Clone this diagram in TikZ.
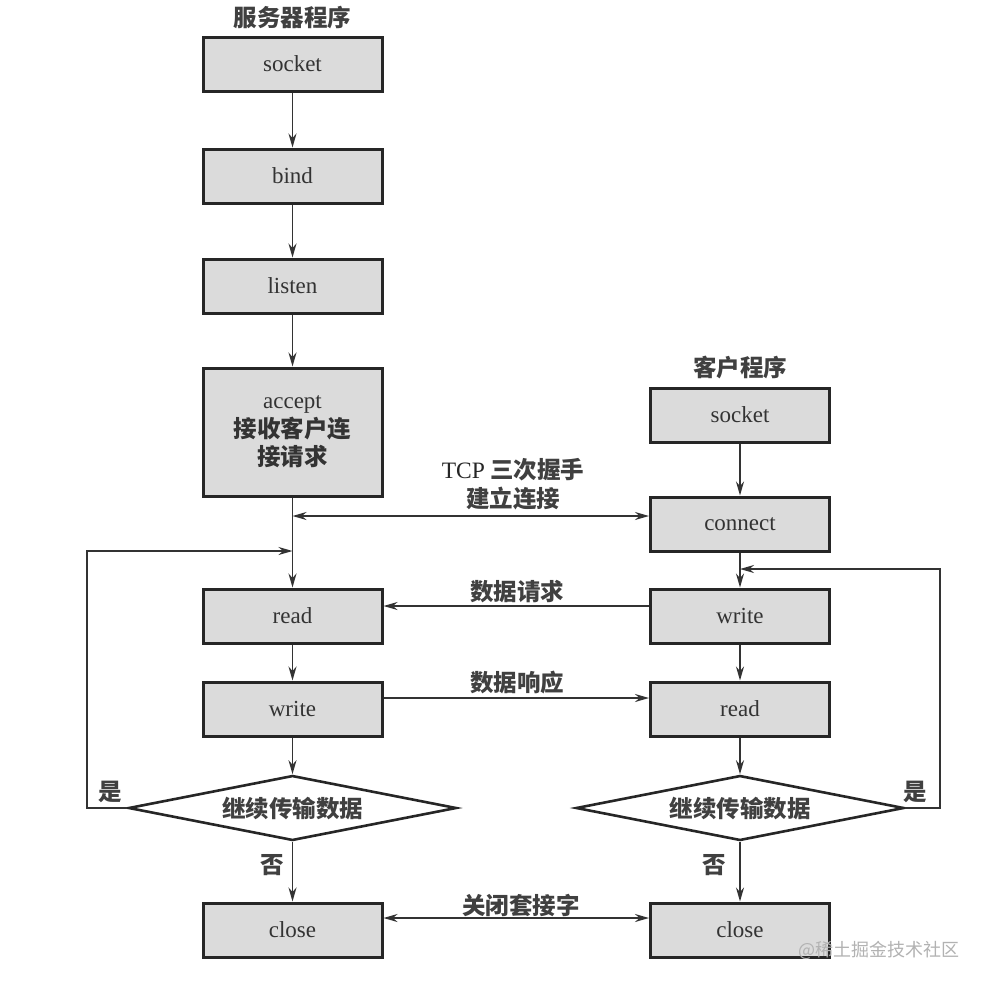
\documentclass[tikz,border=0pt]{standalone}
\usepackage{fontspec}
\setmainfont{Liberation Serif}
\newfontfamily\cjk{Noto Sans CJK SC}
\usetikzlibrary{arrows.meta,shapes.geometric}
\begin{document}
\begin{tikzpicture}[x=1pt,y=-1pt,
  box/.style={draw=black!85, line width=3pt, fill=gray!28, minimum width=179pt, minimum height=54pt, inner sep=0pt, font=\fontsize{23}{28.5}\selectfont, text=black!80, align=center},
  dia/.style={diamond, draw=black!85, line width=2.6pt, fill=white, minimum width=328pt, minimum height=65pt, aspect=5, inner sep=0pt, font=\cjk\bfseries\fontsize{23.5}{27}\selectfont, text=black!75},
  arr/.style={line width=1.8pt, draw=black!80, -{Stealth[length=14pt,width=8pt]}},
  darr/.style={line width=1.8pt, draw=black!80, {Stealth[length=14pt,width=8pt]}-{Stealth[length=14pt,width=8pt]}},
  lab/.style={font=\cjk\bfseries\fontsize{23.5}{28.5}\selectfont, text=black!75, inner sep=0pt, align=center},
  plain/.style={line width=1.8pt, draw=black!80}
]
\useasboundingbox[fill=white] (0,0) rectangle (982,988);

% server column
\node[lab] (stitle) at (292.5,18) {服务器程序};
\node[box] (lsocket) at (292.5,64) {socket};
\node[box] (lbind) at (292.5,176) {bind};
\node[box] (llisten) at (292.5,286) {listen};
\node[box, minimum height=128pt] (laccept) at (292.5,432) {accept\\{\cjk\bfseries\fontsize{23.5}{28.5}\selectfont 接收客户连}\\{\cjk\bfseries\fontsize{23.5}{28.5}\selectfont 接请求}};
\node[box] (lread) at (292.5,616) {read};
\node[box] (lwrite) at (292.5,709) {write};
\node[dia] (dl) at (292.5,808) {继续传输数据};
\node[box] (lclose) at (292.5,930) {close};

% client column
\node[lab] (ctitle) at (740,368) {客户程序};
\node[box] (rsocket) at (740,415) {socket};
\node[box] (rconnect) at (740,524) {connect};
\node[box] (rwrite) at (740,616) {write};
\node[box] (rread) at (740,709) {read};
\node[dia] (dr) at (740,808) {继续传输数据};
\node[box] (rclose) at (740,930) {close};

% junction coordinates
\coordinate (tl) at (292.5,516);
\coordinate (lj) at (292.5,551);
\coordinate (rj) at (740,569);
\coordinate (qy) at (0,606);
\coordinate (ry) at (0,698);
\coordinate (cy) at (0,918);

% server flow
\draw[arr] (lsocket) -- (lbind);
\draw[arr] (lbind) -- (llisten);
\draw[arr] (llisten) -- (laccept);
\draw[arr] (laccept) -- (lread);
\draw[arr] (lread) -- (lwrite);
\draw[arr] (lwrite) -- (dl);
\draw[arr] (dl) -- (lclose);
\draw[arr] (dl.west) -- ++(-40,0) |- (lj);

% client flow
\draw[arr] (rsocket) -- (rconnect);
\draw[arr] (rconnect) -- (rwrite);
\draw[arr] (rwrite) -- (rread);
\draw[arr] (rread) -- (dr);
\draw[arr] (dr) -- (rclose);
\draw[arr] (dr.east) -- ++(35,0) |- (rj);

% cross connectors
\draw[darr] (tl) -- (tl -| rconnect.west);
\draw[arr] (qy -| rwrite.west) -- (qy -| lread.east);
\draw[arr] (ry -| lwrite.east) -- (ry -| rread.west);
\draw[darr] (cy -| lclose.east) -- (cy -| rclose.west);

% labels
\node[lab] (ltcp) at (513,484) {{\fontspec{Liberation Serif}\mdseries\color{black!85}TCP} 三次握手\\建立连接};
\node[lab] (lreq) at (517,592) {数据请求};
\node[lab] (lresp) at (517,683) {数据响应};
\node[lab] (lcls) at (521,905) {关闭套接字};
\node[lab] (yl) at (110,792) {是};
\node[lab] (yr) at (915,792) {是};
\node[lab] (nl) at (272,865) {否};
\node[lab] (nr) at (714,865) {否};
\node[font=\cjk\fontsize{18}{20}\selectfont, text=gray!60, inner sep=0pt] (wm) at (879,950) {@稀土掘金技术社区};
\end{tikzpicture}
\end{document}
